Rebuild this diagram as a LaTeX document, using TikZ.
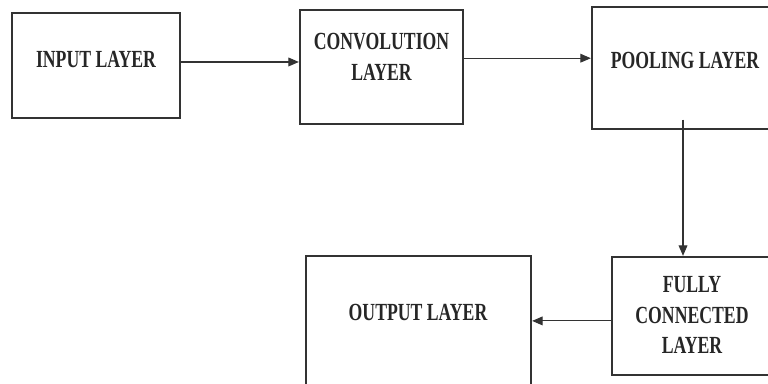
\documentclass[tikz,border=0pt]{standalone}
\usepackage{fontspec}
\usepackage{tikz}
\usetikzlibrary{arrows.meta}
\newfontfamily\layerfont[FakeStretch=0.72]{Liberation Serif}

\tikzset{
    layerbox/.style={
        draw=black!80,
        line width=1.3pt,
        fill=white,
        rectangle
    },
    layertext/.style={
        font=\layerfont\bfseries\fontsize{14}{17.6}\selectfont,
        text=black!85,
        align=center,
        inner sep=0pt
    },
    flow/.style={
        -{Triangle[length=6pt,width=5pt]},
        line width=0.6pt,
        black!80
    }
}

\begin{document}
\begin{tikzpicture}[x=0.02cm, y=-0.02cm]

\useasboundingbox (0,0) rectangle (768,384);
\clip (0,0) rectangle (768,384);

% ---------------- CAIXES ----------------

\node[layerbox, minimum width=3.36cm, minimum height=2.10cm] (inp) at (96,65.5) {};
\node[layerbox, minimum width=3.26cm, minimum height=2.28cm] (conv) at (381.5,67) {};
\node[layerbox, minimum width=3.76cm, minimum height=2.44cm] (pool) at (686,68) {};
\node[layerbox, minimum width=3.26cm, minimum height=2.36cm] (fc) at (693.5,316) {};
\node[layerbox, minimum width=4.50cm, minimum height=2.72cm] (out) at (418.5,324) {};


% ---------------- TEXTOS ----------------

\node[layertext] (inptext) at (96,60) {INPUT LAYER};
\node[layertext] (convtext) at (381.5,57) {CONVOLUTION\\LAYER};
\node[layertext] (pooltext) at (685,60) {POOLING LAYER};
\node[layertext] (fctext) at (692,315) {FULLY\\CONNECTED\\LAYER};
\node[layertext] (outtext) at (418,312) {OUTPUT LAYER};


% ---------------- FLETXES ----------------

\draw[flow] ([yshift=2pt]inp.east) -- ([yshift=2pt]inp.east -| conv.west);
\draw[flow] ([yshift=5pt]conv.east) -- ([yshift=5pt]conv.east -| pool.west);

\coordinate (down) at ([xshift=-1.7pt, yshift=6pt]pool.south);
\draw[flow] (down) -- (down |- fc.north);

\draw[flow] ([yshift=-2.8pt]fc.west) -- ([yshift=-2.8pt]fc.west -| out.east);

\end{tikzpicture}
\end{document}
